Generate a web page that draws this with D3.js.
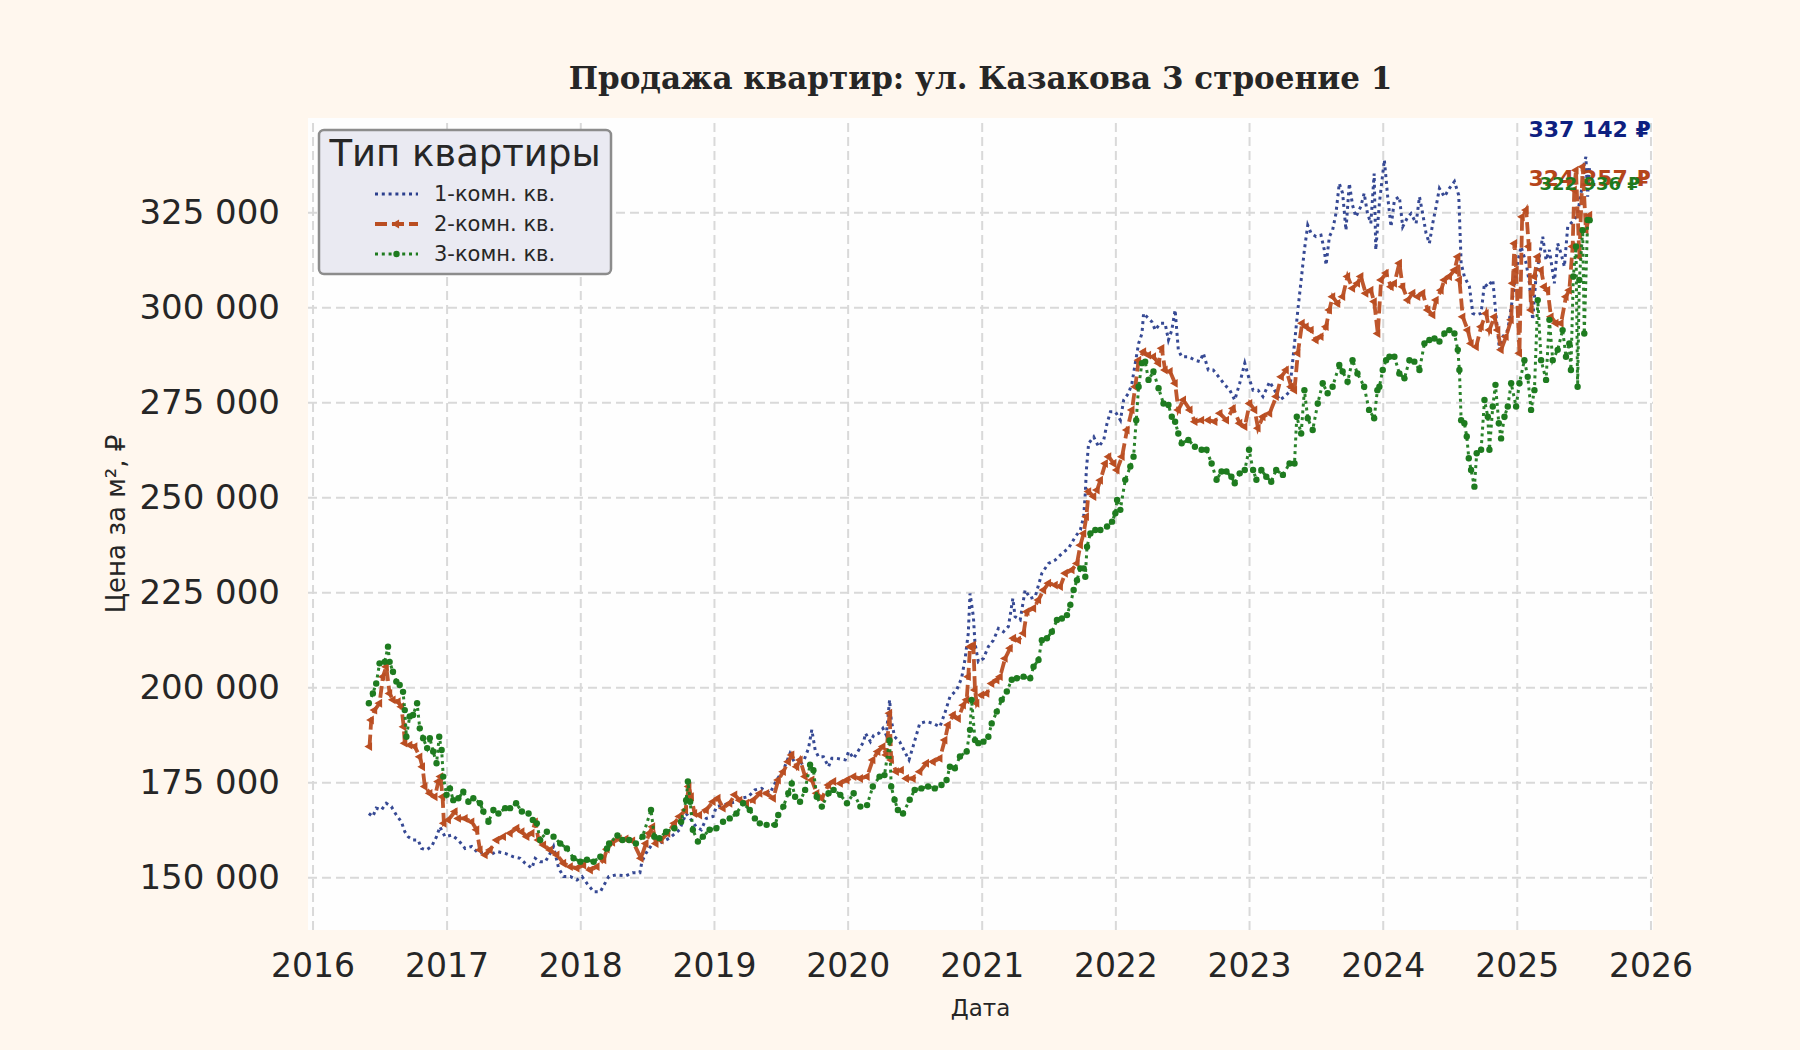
<!DOCTYPE html>
<html>
<head>
<meta charset="utf-8">
<script src="https://cdn.jsdelivr.net/npm/d3@7"></script>
<style>
  html, body { margin: 0; padding: 0; background: #fff7ee; }
  svg { display: block; }
  text { font-family: "DejaVu Sans", sans-serif; }
</style>
</head>
<body>
<div id="chart"></div>
<script>
// Price per m2 by apartment type, dates as fractional years
var rooms1 = [
  [2016.42,166800],[2016.45,166000],[2016.475,168200],[2016.513,167700],[2016.55,169500],[2016.588,168600],
  [2016.625,166400],[2016.663,164600],[2016.688,162000],[2016.713,160700],[2016.75,159800],[2016.788,159800],
  [2016.813,157600],[2016.85,157200],[2016.888,158100],[2016.925,160700],[2016.95,163300],[2016.988,160700],
  [2017.038,161100],[2017.088,159800],[2017.138,157600],[2017.188,158100],[2017.238,156300],[2017.288,156800],
  [2017.325,155900],[2017.375,156800],[2017.438,156300],[2017.5,155400],[2017.55,155000],[2017.588,153700],
  [2017.638,152400],[2017.663,155000],[2017.7,154100],[2017.738,154100],[2017.775,156300],[2017.8,158100],
  [2017.838,152400],[2017.875,150200],[2017.925,150200],[2017.975,149300],[2018.013,150200],[2018.05,148400],
  [2018.1,146200],[2018.15,146200],[2018.213,150200],[2018.266,150600],[2018.341,150400],[2018.391,151200],
  [2018.446,151200],[2018.461,154100],[2018.491,156300],[2018.541,158900],[2018.592,158900],[2018.667,160300],
  [2018.742,162500],[2018.792,166800],[2018.83,165100],[2018.867,163300],[2018.905,162500],[2018.942,165500],
  [2018.993,166000],[2019.018,168600],[2019.068,169000],[2019.118,169500],[2019.168,169900],[2019.206,170800],
  [2019.256,171200],[2019.306,173000],[2019.356,173400],[2019.419,172100],[2019.469,175600],[2019.519,178200],
  [2019.569,182600],[2019.619,179100],[2019.669,180400],[2019.707,183900],[2019.732,188800],[2019.757,183500],
  [2019.782,181700],[2019.819,181700],[2019.857,179100],[2019.882,181300],[2019.92,181300],[2019.982,180900],
  [2020.008,183100],[2020.045,181300],[2020.083,183500],[2020.12,185700],[2020.133,187900],[2020.17,185700],
  [2020.195,187400],[2020.233,187900],[2020.263,189200],[2020.288,187400],[2020.313,196700],[2020.325,191400],
  [2020.35,187000],[2020.388,185700],[2020.425,183100],[2020.458,180900],[2020.488,184400],[2020.538,190500],
  [2020.588,191000],[2020.638,190500],[2020.688,189600],[2020.725,193200],[2020.763,197500],[2020.813,199300],
  [2020.85,202400],[2020.875,207200],[2020.9,214200],[2020.913,224700],[2020.938,218600],[2020.95,211600],
  [2020.975,206700],[2021.013,207600],[2021.05,210700],[2021.088,212400],[2021.125,215500],[2021.163,214600],
  [2021.2,216000],[2021.233,223400],[2021.25,218600],[2021.288,217700],[2021.325,225600],[2021.363,223400],
  [2021.4,223800],[2021.45,230000],[2021.5,232600],[2021.55,233500],[2021.6,235200],[2021.65,236600],
  [2021.7,239600],[2021.738,241400],[2021.763,244900],[2021.775,251000],[2021.783,257200],[2021.8,264200],
  [2021.838,265900],[2021.875,263300],[2021.913,265100],[2021.938,269500],[2021.963,272500],[2022.0,272500],
  [2022.038,270300],[2022.062,275600],[2022.099,277400],[2022.124,280000],[2022.149,285300],[2022.174,290500],
  [2022.199,293100],[2022.211,298400],[2022.236,297500],[2022.273,296200],[2022.298,294000],[2022.335,295800],
  [2022.372,295800],[2022.397,291400],[2022.422,294000],[2022.447,299300],[2022.471,288800],[2022.496,287000],
  [2022.546,287000],[2022.595,286100],[2022.633,285700],[2022.658,287900],[2022.695,283500],[2022.732,283500],
  [2022.782,281300],[2022.819,279600],[2022.856,278200],[2022.893,275600],[2022.93,280000],[2022.968,285300],
  [2022.992,282200],[2023.03,278200],[2023.067,278200],[2023.104,276500],[2023.154,280400],[2023.191,278200],
  [2023.228,275600],[2023.266,276500],[2023.303,277800],[2023.34,290500],[2023.365,299300],[2023.39,307200],
  [2023.414,315100],[2023.439,321600],[2023.464,319500],[2023.501,318600],[2023.538,319000],[2023.563,315100],
  [2023.576,311100],[2023.601,318600],[2023.625,320300],[2023.65,324700],[2023.675,332600],[2023.7,330000],
  [2023.725,320300],[2023.75,332600],[2023.774,326900],[2023.799,323800],[2023.836,326500],[2023.861,330000],
  [2023.886,324700],[2023.911,322100],[2023.936,335200],[2023.948,315100],[2023.975,327400],[2024.012,338800],
  [2024.037,329100],[2024.062,321200],[2024.087,328200],[2024.124,329100],[2024.149,321200],[2024.187,323800],
  [2024.211,324700],[2024.249,322100],[2024.274,329100],[2024.298,324700],[2024.323,319500],[2024.348,316800],
  [2024.373,322100],[2024.398,326500],[2024.423,331300],[2024.46,329100],[2024.497,331300],[2024.535,333100],
  [2024.567,329500],[2024.585,311600],[2024.609,308100],[2024.647,305400],[2024.672,298400],[2024.697,298000],
  [2024.734,298400],[2024.759,306300],[2024.784,305400],[2024.821,307200],[2024.846,297500],[2024.871,288800],
  [2024.896,292300],[2024.933,294000],[2024.97,302800],[2024.995,309800],[2025.032,316000],[2025.07,311600],
  [2025.095,306300],[2025.119,296700],[2025.144,308100],[2025.169,313300],[2025.194,318600],[2025.219,312400],
  [2025.244,315100],[2025.281,306300],[2025.306,316800],[2025.331,314200],[2025.356,310700],[2025.381,321200],
  [2025.405,322100],[2025.43,323000],[2025.455,324700],[2025.493,332600],[2025.505,337900],[2025.517,339600],
  [2025.53,329100],[2025.545,337142]
];

var rooms2 = [
  [2016.425,184400],[2016.438,191400],[2016.463,194000],[2016.5,195800],[2016.525,202800],[2016.55,205400],
  [2016.575,198400],[2016.6,196700],[2016.638,196200],[2016.663,194900],[2016.68,189600],[2016.688,185300],
  [2016.725,184800],[2016.763,184400],[2016.8,181700],[2016.82,179100],[2016.838,173900],[2016.875,172100],
  [2016.913,171200],[2016.938,175200],[2016.955,176500],[2016.97,171200],[2016.98,164200],[2017.013,165100],
  [2017.063,167300],[2017.088,165500],[2017.138,165500],[2017.188,164600],[2017.225,162500],[2017.25,157200],
  [2017.288,155900],[2017.325,157200],[2017.375,159800],[2017.425,160700],[2017.475,161600],[2017.525,162900],
  [2017.563,162000],[2017.6,160700],[2017.638,161600],[2017.663,164600],[2017.688,159800],[2017.725,158500],
  [2017.775,157200],[2017.825,155900],[2017.875,153700],[2017.925,152800],[2017.975,152400],[2018.025,153200],
  [2018.075,151900],[2018.125,152800],[2018.175,154600],[2018.2,157400],[2018.241,159200],[2018.291,160100],
  [2018.341,160100],[2018.391,159600],[2018.454,155000],[2018.491,158900],[2018.516,161600],[2018.541,163300],
  [2018.566,158900],[2018.604,159800],[2018.654,161600],[2018.704,164200],[2018.742,166000],[2018.787,167700],
  [2018.812,173900],[2018.83,171200],[2018.855,166800],[2018.892,166400],[2018.942,167700],[2018.993,169900],
  [2019.03,170800],[2019.068,168200],[2019.118,169500],[2019.155,171700],[2019.193,170300],[2019.243,169500],
  [2019.293,170300],[2019.343,172100],[2019.394,172100],[2019.444,170800],[2019.481,175600],[2019.519,177800],
  [2019.556,180400],[2019.582,182200],[2019.619,179100],[2019.644,180900],[2019.682,176500],[2019.732,175600],
  [2019.769,172100],[2019.807,170800],[2019.857,174300],[2019.895,175200],[2019.945,174700],[2019.995,175600],
  [2020.045,176500],[2020.095,176000],[2020.145,176500],[2020.188,180900],[2020.225,183100],[2020.263,184400],
  [2020.288,182200],[2020.313,193200],[2020.325,180900],[2020.363,177800],[2020.4,178200],[2020.438,176000],
  [2020.488,176000],[2020.538,177800],[2020.588,180000],[2020.638,180400],[2020.688,181300],[2020.725,186100],
  [2020.75,190100],[2020.788,192700],[2020.825,191800],[2020.863,195300],[2020.888,196700],[2020.9,202800],
  [2020.913,210700],[2020.938,211100],[2020.95,199300],[2020.963,195800],[2021.0,198000],[2021.038,198400],
  [2021.075,201000],[2021.113,201900],[2021.138,202800],[2021.175,207600],[2021.213,210300],[2021.238,212900],
  [2021.275,212400],[2021.313,214200],[2021.338,219900],[2021.388,220800],[2021.425,223000],[2021.463,225600],
  [2021.5,227400],[2021.55,226900],[2021.588,226500],[2021.625,230000],[2021.675,230900],[2021.713,232600],
  [2021.738,237400],[2021.763,240500],[2021.783,244900],[2021.8,251500],[2021.838,250200],[2021.863,251900],
  [2021.888,254500],[2021.925,258900],[2021.95,260700],[2021.988,258900],[2022.012,257200],[2022.05,260700],
  [2022.087,267700],[2022.124,273000],[2022.149,279100],[2022.174,286100],[2022.211,288300],[2022.248,287400],
  [2022.285,287000],[2022.323,285300],[2022.347,289200],[2022.372,283500],[2022.409,283100],[2022.447,280000],
  [2022.471,273000],[2022.509,275600],[2022.558,273000],[2022.595,269900],[2022.645,270300],[2022.695,270300],
  [2022.744,269900],[2022.782,272100],[2022.831,270300],[2022.881,273400],[2022.93,269500],[2022.968,268600],
  [2023.005,274700],[2023.042,273000],[2023.067,268200],[2023.104,271200],[2023.154,272100],[2023.203,276500],
  [2023.241,281700],[2023.278,283500],[2023.315,279100],[2023.34,278200],[2023.365,287900],[2023.397,295800],
  [2023.427,294900],[2023.464,294000],[2023.501,291400],[2023.538,292300],[2023.576,294900],[2023.601,299300],
  [2023.625,302800],[2023.663,301000],[2023.7,302800],[2023.737,308100],[2023.774,305000],[2023.811,306300],
  [2023.836,308100],[2023.873,303700],[2023.911,304500],[2023.936,301500],[2023.963,293100],[2023.988,307200],
  [2024.025,309000],[2024.062,305400],[2024.087,306300],[2024.124,311600],[2024.149,305400],[2024.187,301900],
  [2024.224,303700],[2024.261,302800],[2024.298,303700],[2024.336,299300],[2024.373,298000],[2024.398,301900],
  [2024.435,304500],[2024.46,307200],[2024.497,308100],[2024.535,309800],[2024.56,313300],[2024.572,307200],
  [2024.597,297500],[2024.634,294000],[2024.659,290500],[2024.697,289600],[2024.734,294900],[2024.771,298400],
  [2024.796,294000],[2024.833,297500],[2024.858,294000],[2024.883,288800],[2024.92,292300],[2024.958,296700],
  [2024.97,306300],[2024.983,316800],[2024.995,309800],[2025.02,287900],[2025.04,323800],[2025.07,325600],
  [2025.09,316000],[2025.107,299300],[2025.132,308100],[2025.157,313300],[2025.182,309800],[2025.206,305400],
  [2025.231,304500],[2025.256,297500],[2025.293,295800],[2025.331,295800],[2025.368,302800],[2025.393,304500],
  [2025.418,316000],[2025.43,330900],[2025.443,336100],[2025.468,313300],[2025.493,337000],[2025.517,320300],
  [2025.545,324257]
];

var rooms3 = [
  [2016.42,195800],[2016.45,198400],[2016.475,201000],[2016.5,206300],[2016.538,206700],[2016.563,210700],
  [2016.575,206700],[2016.6,204100],[2016.625,201500],[2016.65,200600],[2016.675,198800],[2016.688,194000],
  [2016.7,187000],[2016.725,192300],[2016.75,192700],[2016.78,195800],[2016.8,189200],[2016.825,186600],
  [2016.855,184000],[2016.875,186600],[2016.9,183100],[2016.925,180000],[2016.945,187000],[2016.963,183500],
  [2016.975,176500],[2017.0,171700],[2017.025,173400],[2017.05,170300],[2017.088,170800],[2017.125,172500],
  [2017.163,169900],[2017.2,170800],[2017.25,169500],[2017.275,167300],[2017.313,164600],[2017.35,167700],
  [2017.388,166800],[2017.438,168200],[2017.475,168200],[2017.52,169500],[2017.563,167300],[2017.613,166800],
  [2017.645,165100],[2017.675,164200],[2017.7,159800],[2017.75,162000],[2017.8,160700],[2017.85,158900],
  [2017.9,157600],[2017.95,155000],[2018.0,154100],[2018.05,154600],[2018.1,154100],[2018.15,155400],
  [2018.2,157600],[2018.216,158900],[2018.278,161000],[2018.316,159800],[2018.366,159800],[2018.416,158900],
  [2018.466,160700],[2018.529,167700],[2018.554,160700],[2018.592,160300],[2018.642,162000],[2018.704,162900],
  [2018.754,164600],[2018.792,170300],[2018.805,175200],[2018.822,169900],[2018.842,162500],[2018.88,159400],
  [2018.917,160700],[2018.967,162500],[2019.018,162900],[2019.068,164600],[2019.118,165500],[2019.168,166800],
  [2019.218,169500],[2019.268,167700],[2019.306,165500],[2019.343,164200],[2019.394,163800],[2019.456,163800],
  [2019.481,166400],[2019.519,168600],[2019.556,172100],[2019.582,174700],[2019.607,171200],[2019.644,169900],
  [2019.682,173000],[2019.719,179600],[2019.744,178200],[2019.769,171200],[2019.807,168600],[2019.857,172100],
  [2019.895,173000],[2019.945,171700],[2019.995,169500],[2020.045,172100],[2020.095,168600],[2020.145,169000],
  [2020.188,173900],[2020.238,176500],[2020.275,176900],[2020.313,186000],[2020.325,173900],[2020.35,170400],
  [2020.375,167700],[2020.413,166800],[2020.463,170400],[2020.5,173000],[2020.55,173400],[2020.6,173900],
  [2020.65,173400],[2020.7,174300],[2020.738,175600],[2020.763,179100],[2020.8,178700],[2020.838,181800],
  [2020.888,183100],[2020.913,188800],[2020.925,196700],[2020.95,186100],[2020.975,185300],[2021.013,185700],
  [2021.05,187000],[2021.075,190500],[2021.113,193600],[2021.15,196700],[2021.188,198900],[2021.225,202000],
  [2021.263,202400],[2021.313,202800],[2021.363,202400],[2021.388,205400],[2021.425,207200],[2021.45,212400],
  [2021.488,212900],[2021.525,214600],[2021.563,217700],[2021.6,218100],[2021.638,219000],[2021.663,221700],
  [2021.688,225600],[2021.713,228200],[2021.738,231300],[2021.763,231300],[2021.775,229100],[2021.788,237000],
  [2021.813,240500],[2021.85,241400],[2021.888,241400],[2021.938,242300],[2021.975,243600],[2022.0,245800],
  [2022.013,249300],[2022.037,246700],[2022.074,254600],[2022.112,258100],[2022.136,260700],[2022.156,270300],
  [2022.174,279100],[2022.199,285300],[2022.223,285700],[2022.248,280900],[2022.285,283100],[2022.323,278700],
  [2022.36,274700],[2022.397,274300],[2022.422,271200],[2022.447,269900],[2022.471,266800],[2022.496,264200],
  [2022.546,265100],[2022.595,263300],[2022.645,262500],[2022.682,262500],[2022.72,258900],[2022.757,254600],
  [2022.794,256800],[2022.831,256800],[2022.868,255400],[2022.893,253700],[2022.93,256300],[2022.968,257200],
  [2023.0,262500],[2023.03,257200],[2023.055,254600],[2023.092,257200],[2023.129,255400],[2023.166,254100],
  [2023.203,257200],[2023.253,255900],[2023.303,258900],[2023.34,258900],[2023.357,271200],[2023.39,266800],
  [2023.414,278200],[2023.439,270800],[2023.476,267700],[2023.514,274700],[2023.551,280000],[2023.588,277400],
  [2023.625,279100],[2023.675,284800],[2023.7,283100],[2023.737,280400],[2023.774,286100],[2023.811,282600],
  [2023.861,279100],[2023.898,273000],[2023.936,270800],[2023.96,278200],[2023.975,279100],[2024.0,283500],
  [2024.025,286100],[2024.05,287000],[2024.087,287000],[2024.124,282600],[2024.162,281300],[2024.199,286100],
  [2024.236,285700],[2024.274,283500],[2024.311,290500],[2024.348,291400],[2024.386,291800],[2024.423,291000],
  [2024.46,293100],[2024.497,294000],[2024.535,293100],[2024.56,288800],[2024.572,283500],[2024.585,270300],
  [2024.609,269500],[2024.627,266000],[2024.642,260300],[2024.659,257200],[2024.684,252800],[2024.701,261600],
  [2024.734,262500],[2024.759,275600],[2024.784,271200],[2024.796,262500],[2024.821,273900],[2024.841,279600],
  [2024.866,269500],[2024.883,265500],[2024.908,271200],[2024.933,273900],[2024.958,280000],[2024.995,273900],
  [2025.02,280000],[2025.057,286100],[2025.082,281700],[2025.107,273000],[2025.132,278200],[2025.157,301900],
  [2025.182,286100],[2025.219,280900],[2025.244,296700],[2025.269,286100],[2025.306,288800],[2025.343,294000],
  [2025.368,287000],[2025.393,290500],[2025.405,283500],[2025.423,308100],[2025.443,316000],[2025.455,279100],
  [2025.468,307200],[2025.493,320300],[2025.505,293100],[2025.53,323000],[2025.545,322936]
];

var seriesNames = ["1-комн. кв.", "2-комн. кв.", "3-комн. кв."];
var yTicks = [150000, 175000, 200000, 225000, 250000, 275000, 300000, 325000];
var xTickYears = [2016, 2017, 2018, 2019, 2020, 2021, 2022, 2023, 2024, 2025, 2026];
var titleText = "Продажа квартир: ул. Казакова 3 строение 1";

var width = 1800,
    height = 1050,
    plot = {left: 308, right: 1653, top: 118, bottom: 930};

var styles = [
  {color: "#2b3f8e", label: "#0d2080", dash: "3,3.8", width: 3, marker: null, labelSize: 22},
  {color: "#ba4e22", label: "#b5451b", dash: "12,5", width: 3.8, marker: "tri", labelSize: 22},
  {color: "#1e7b1f", label: "#1f7a1f", dash: "3,3.8", width: 3, marker: "dot", labelSize: 18}
];

function fromYear(y) {
  var yr = Math.floor(y),
      start = new Date(yr, 0, 1),
      end = new Date(yr + 1, 0, 1);
  return new Date(start.getTime() + (y - yr) * (end - start));
}

var data = [rooms1, rooms2, rooms3].map(function(s, i) {
  return {
    name: seriesNames[i],
    values: s.map(function(d) { return {date: fromYear(d[0]), value: d[1]}; })
  };
});

var x = d3.scaleTime()
    .domain([fromYear(2015.966), fromYear(2026.019)])
    .range([plot.left, plot.right]);

var y = d3.scaleLinear()
    .domain([136130, 349820])
    .range([plot.bottom, plot.top]);

var fmt = d3.formatLocale({decimal: ",", thousands: " ", grouping: [3], currency: ["", " ₽"]}).format(",d");

var svg = d3.select("#chart").append("svg")
    .attr("width", width)
    .attr("height", height);

svg.append("rect").attr("width", width).attr("height", height).attr("fill", "#fff7ee");

svg.append("defs").append("clipPath")
    .attr("id", "clip")
  .append("rect")
    .attr("x", plot.left)
    .attr("y", plot.top)
    .attr("width", plot.right - plot.left)
    .attr("height", plot.bottom - plot.top);

svg.append("rect")
    .attr("x", plot.left)
    .attr("y", plot.top)
    .attr("width", plot.right - plot.left)
    .attr("height", plot.bottom - plot.top)
    .attr("fill", "#fefefe");

// grid
var xTicks = xTickYears.map(function(yr) { return new Date(yr, 0, 1); });

var gx = svg.append("g")
    .attr("transform", "translate(0," + plot.bottom + ")")
    .call(d3.axisBottom(x).tickValues(xTicks).tickSize(-(plot.bottom - plot.top)).tickFormat(""));
var gy = svg.append("g")
    .attr("transform", "translate(" + plot.left + ",0)")
    .call(d3.axisLeft(y).tickValues(yTicks).tickSize(-(plot.right - plot.left)).tickFormat(""));

[gx, gy].forEach(function(g) {
  g.select(".domain").remove();
  g.selectAll("line")
      .attr("stroke", "#d9d9d9")
      .attr("stroke-width", 2)
      .attr("stroke-dasharray", "9,5");
});
gx.selectAll(".tick").filter(function(d) { return x(d) > plot.right; }).remove();

// tick labels
var ax = svg.append("g")
    .attr("transform", "translate(0," + plot.bottom + ")")
    .call(d3.axisBottom(x).tickValues(xTicks).tickSize(0).tickPadding(24).tickFormat(d3.timeFormat("%Y")));
var ay = svg.append("g")
    .attr("transform", "translate(" + plot.left + ",0)")
    .call(d3.axisLeft(y).tickValues(yTicks).tickSize(0).tickPadding(28).tickFormat(fmt));

[ax, ay].forEach(function(g) {
  g.select(".domain").remove();
  g.selectAll("text")
      .attr("font-family", "DejaVu Sans")
      .attr("font-size", 33)
      .attr("fill", "#262626");
});
ay.selectAll("text").attr("font-size", 34);

// lines
var line = d3.line()
    .x(function(d) { return x(d.date); })
    .y(function(d) { return y(d.value); });

var lines = svg.append("g").attr("clip-path", "url(#clip)");

data.forEach(function(s, i) {
  var st = styles[i];
  lines.append("path")
      .datum(s.values)
      .attr("d", line)
      .attr("fill", "none")
      .attr("stroke", st.color)
      .attr("stroke-width", st.width)
      .attr("stroke-dasharray", st.dash)
      .attr("stroke-opacity", 0.95);

  if (st.marker == "dot") {
    lines.append("g").selectAll("circle")
        .data(s.values).enter()
      .append("circle")
        .attr("cx", function(d) { return x(d.date); })
        .attr("cy", function(d) { return y(d.value); })
        .attr("r", 3.2)
        .attr("fill", st.color);
  } else if (st.marker == "tri") {
    lines.append("g").selectAll("path")
        .data(s.values).enter()
      .append("path")
        .attr("d", d3.symbol().type(d3.symbolTriangle).size(34))
        .attr("transform", function(d) {
          return "translate(" + x(d.date) + "," + y(d.value) + ") rotate(-90)";
        })
        .attr("fill", st.color);
  }
});

// last value labels
data.forEach(function(s, i) {
  var last = s.values[s.values.length - 1];
  svg.append("text")
      .attr("x", x(last.date))
      .attr("y", y(last.value) - 37)
      .attr("text-anchor", "middle")
      .attr("dominant-baseline", "central")
      .attr("font-weight", "bold")
      .attr("font-size", styles[i].labelSize)
      .attr("fill", styles[i].label)
      .text(fmt(last.value) + " ₽");
});

// title and axis labels
svg.append("text")
    .attr("x", (plot.left + plot.right) / 2)
    .attr("y", 78)
    .attr("text-anchor", "middle")
    .attr("dominant-baseline", "central")
    .style("font-family", "'DejaVu Serif', serif")
    .attr("font-weight", "bold")
    .attr("font-size", 31)
    .attr("fill", "#262626")
    .text(titleText);

svg.append("text")
    .attr("x", (plot.left + plot.right) / 2)
    .attr("y", 1008)
    .attr("text-anchor", "middle")
    .attr("dominant-baseline", "central")
    .attr("font-size", 23)
    .attr("fill", "#262626")
    .text("Дата");

svg.append("text")
    .attr("transform", "translate(116," + ((plot.top + plot.bottom) / 2) + ") rotate(-90)")
    .attr("text-anchor", "middle")
    .attr("dominant-baseline", "central")
    .attr("font-size", 26)
    .attr("fill", "#262626")
    .text("Цена за м², ₽");

// legend
var legend = svg.append("g");
legend.append("rect")
    .attr("x", 319)
    .attr("y", 130)
    .attr("width", 292)
    .attr("height", 144)
    .attr("rx", 5)
    .attr("fill", "#eaeaf2")
    .attr("stroke", "#8c8c8c")
    .attr("stroke-width", 2.5);

legend.append("text")
    .attr("x", 465)
    .attr("y", 153)
    .attr("text-anchor", "middle")
    .attr("dominant-baseline", "central")
    .attr("font-size", 37)
    .attr("fill", "#262626")
    .text("Тип квартиры");

seriesNames.forEach(function(name, i) {
  var st = styles[i],
      ly = 194 + i * 30;
  legend.append("line")
      .attr("x1", 375).attr("x2", 418)
      .attr("y1", ly).attr("y2", ly)
      .attr("stroke", st.color)
      .attr("stroke-width", st.width)
      .attr("stroke-dasharray", st.dash);
  if (st.marker == "dot") {
    legend.append("circle").attr("cx", 396.5).attr("cy", ly).attr("r", 3.2).attr("fill", st.color);
  } else if (st.marker == "tri") {
    legend.append("path")
        .attr("d", d3.symbol().type(d3.symbolTriangle).size(34))
        .attr("transform", "translate(396.5," + ly + ") rotate(-90)")
        .attr("fill", st.color);
  }
  legend.append("text")
      .attr("x", 434)
      .attr("y", ly)
      .attr("dominant-baseline", "central")
      .attr("font-size", 21)
      .attr("fill", "#262626")
      .text(name);
});
</script>
</body>
</html>
